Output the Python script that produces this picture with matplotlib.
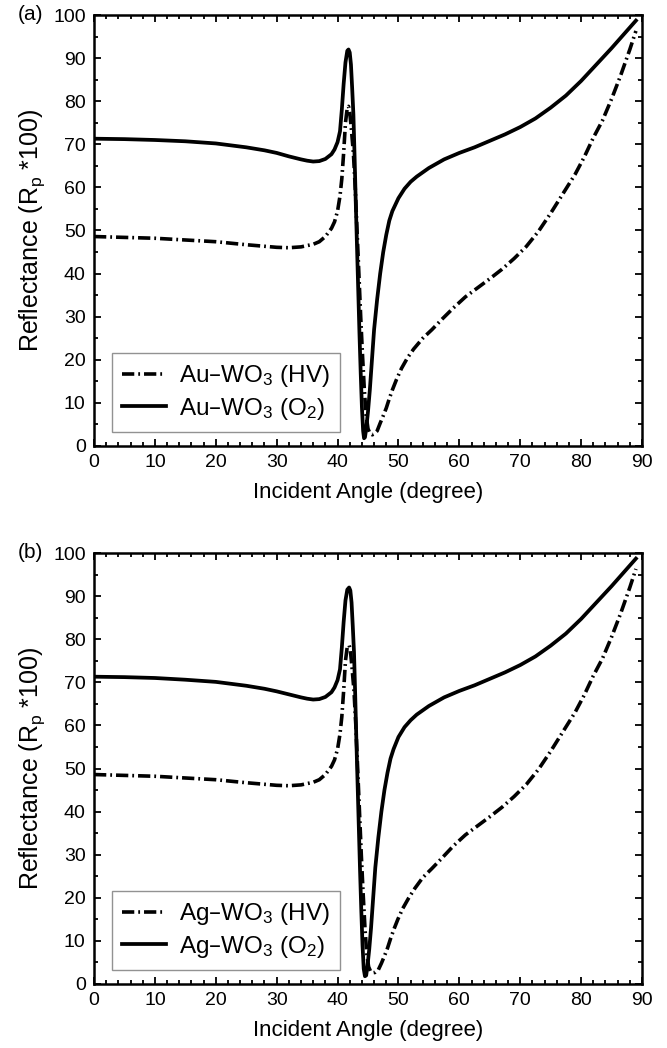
import matplotlib
matplotlib.use("Agg")
import matplotlib.pyplot as plt
from matplotlib.ticker import MultipleLocator

plt.rcParams['font.family'] = ['Liberation Sans', 'DejaVu Sans']
plt.rcParams['mathtext.default'] = 'regular'

# ---------------- data ----------------
# Panel (a): Au-WO3, O2 (solid)
a_o2_x = [0, 5, 10, 15, 20, 25, 28, 30, 32, 34, 35, 36, 37, 38, 39, 39.5, 40, 40.4, 40.7,
          41.0, 41.3, 41.6, 41.8, 42.0, 42.2, 42.4, 42.6, 42.8, 43.0, 43.2, 43.4, 43.6,
          43.8, 44.0, 44.2, 44.35, 44.5, 44.7, 45.0, 45.3, 45.6, 46.0, 46.5, 47.0, 47.5,
          48.0, 48.5, 49, 50, 51, 52, 53, 55, 57.5, 60, 62.5, 65, 67.5, 70, 72.5, 75,
          77.5, 80, 82.5, 85, 87, 89]
a_o2_y = [71.3, 71.2, 71.0, 70.7, 70.2, 69.3, 68.6, 68.0, 67.2, 66.5, 66.2, 66.0, 66.1,
          66.6, 67.7, 68.8, 70.5, 73, 78, 84, 89, 91.7, 92.0, 91.3, 88.5, 83, 77, 67, 56,
          46, 36, 26, 17, 9, 3.5, 1.8, 2.0, 4, 8, 13, 19, 27, 34, 40, 45, 49, 52.3, 54.5,
          57.5, 59.7, 61.3, 62.5, 64.5, 66.5, 68, 69.3, 70.8, 72.3, 74, 76, 78.5, 81.3,
          84.7, 88.5, 92.3, 95.5, 98.7]
# Panel (a): Au-WO3, HV (dash-dot)
a_hv_x = [0, 5, 10, 15, 20, 25, 30, 32, 34, 36, 37, 38, 39, 39.5, 40, 40.4, 40.7, 41.0,
          41.3, 41.6, 41.8, 42.0, 42.3, 42.6, 42.9, 43.2, 43.5, 43.8, 44.1, 44.4, 44.7,
          45.0, 45.3, 45.7, 46.0, 46.5, 47, 47.5, 48, 48.5, 49, 49.7, 50.5, 51.5, 52.5,
          54, 55.5, 57, 59, 61, 63, 65, 67, 69, 71, 73, 75, 77, 79, 80.5, 82, 83.5, 85,
          86.5, 88, 89]
a_hv_y = [48.6, 48.4, 48.2, 47.8, 47.4, 46.7, 46.1, 46.0, 46.2, 46.8, 47.4, 48.6, 50.5,
          52, 54.5, 58, 62, 68, 75, 78.5, 78.8, 77.5, 73, 68, 60, 50, 40, 30, 21, 13, 7,
          4, 3.0, 2.6, 2.8, 3.5, 5.3, 7, 8.8, 11, 13, 15.5, 18, 20.5, 22.5, 25, 27, 29.2,
          32, 34.6, 36.7, 38.8, 41, 43.5, 46.3, 49.8, 54, 58.5, 63, 67, 71.5, 75.5, 80.5,
          86, 92, 96.3]

# Panel (b): Ag-WO3, O2 (solid)
b_o2_x = [0, 5, 10, 15, 20, 25, 28, 30, 32, 34, 35, 36, 37, 38, 39, 39.5, 40, 40.4, 40.7,
          41.0, 41.3, 41.6, 41.9, 42.1, 42.3, 42.5, 42.7, 42.9, 43.1, 43.3, 43.5, 43.7,
          43.9, 44.1, 44.3, 44.5, 44.7, 44.9, 45.2, 45.5, 45.8, 46.2, 46.7, 47.2, 47.7,
          48.2, 48.7, 49.2, 50, 51, 52, 53, 55, 57.5, 60, 62.5, 65, 67.5, 70, 72.5, 75,
          77.5, 80, 82.5, 85, 87, 89]
b_o2_y = [71.3, 71.2, 71.0, 70.6, 70.1, 69.2, 68.5, 67.9, 67.2, 66.5, 66.2, 66.0, 66.1,
          66.6, 67.7, 68.8, 70.5, 73, 78, 84, 89, 91.5, 92.0, 91.3, 88.5, 83, 77, 67, 56,
          46, 36, 26, 17, 9, 3.5, 1.8, 2.0, 4, 8, 13, 19, 27, 34, 40, 45, 49, 52.3, 54.5,
          57.3, 59.6, 61.2, 62.5, 64.5, 66.5, 68, 69.3, 70.8, 72.3, 74, 76, 78.5, 81.3,
          84.7, 88.5, 92.3, 95.5, 98.7]
# Panel (b): Ag-WO3, HV (dash-dot)
b_hv_x = [0, 5, 10, 15, 20, 25, 30, 32, 34, 36, 37, 38, 39, 39.5, 40, 40.4, 40.7, 41.0,
          41.3, 41.6, 41.9, 42.1, 42.4, 42.7, 43.0, 43.3, 43.6, 43.9, 44.2, 44.5, 44.8,
          45.1, 45.4, 45.8, 46.2, 46.7, 47.2, 47.7, 48.2, 48.7, 49.2, 49.9, 50.7, 51.7,
          52.7, 54, 55.5, 57, 59, 61, 63, 65, 67, 69, 71, 73, 75, 77, 79, 80.5, 82, 83.5,
          85, 86.5, 88, 89]
b_hv_y = [48.6, 48.4, 48.2, 47.8, 47.4, 46.7, 46.1, 46.0, 46.2, 46.8, 47.4, 48.6, 50.5,
          52, 54.5, 58, 62, 68, 75, 78.3, 78.6, 77.5, 73, 68, 60, 50, 40, 30, 21, 13, 7,
          4, 3.0, 2.6, 2.7, 3.3, 4.8, 6.5, 8.3, 10.5, 12.5, 15, 17.5, 20, 22.2, 24.7, 26.8,
          29, 32, 34.6, 36.7, 38.8, 41, 43.5, 46.3, 49.8, 54, 58.5, 63, 67, 71.5, 75.5,
          80.5, 86, 92, 96.3]

panel_labels = ["(a)", "(b)"]
legend_hv = ["Au\u2013WO$_3$ (HV)", "Ag\u2013WO$_3$ (HV)"]
legend_o2 = ["Au\u2013WO$_3$ (O$_2$)", "Ag\u2013WO$_3$ (O$_2$)"]
xlabel = "Incident Angle (degree)"
ylabel = "Reflectance (R$_p$ *100)"

# ---------------- figure ----------------
W, H = 667, 1048
fig = plt.figure(figsize=(W / 100, H / 100), dpi=100)

def frac_rect(left, top, right, bottom):
    return [left / W, 1 - bottom / H, (right - left) / W, (bottom - top) / H]

tops = [15, 553]
rects = [frac_rect(94, 15, 642, 446), frac_rect(94, 553, 642, 984)]
series = [(a_hv_x, a_hv_y, a_o2_x, a_o2_y), (b_hv_x, b_hv_y, b_o2_x, b_o2_y)]

for i, rect in enumerate(rects):
    ax = fig.add_axes(rect)
    hx, hy, ox, oy = series[i]
    ax.plot(hx, hy, color='black', lw=2.6, linestyle=(0, (3.4, 1.1, 0.5, 1.1)),
            label=legend_hv[i], dash_capstyle='butt')
    ax.plot(ox, oy, color='black', lw=2.7, linestyle='-', label=legend_o2[i])
    ax.set_xlim(0, 90)
    ax.set_ylim(0, 100)
    ax.xaxis.set_major_locator(MultipleLocator(10))
    ax.xaxis.set_minor_locator(MultipleLocator(2))
    ax.yaxis.set_major_locator(MultipleLocator(10))
    ax.yaxis.set_minor_locator(MultipleLocator(5))
    ax.tick_params(which='both', direction='in', top=True, right=True, width=1.3)
    ax.tick_params(which='major', length=5, labelsize=14)
    ax.tick_params(axis='x', which='major', pad=6)
    ax.tick_params(axis='y', which='major', pad=6)
    ax.tick_params(which='minor', length=3)
    for s in ax.spines.values():
        s.set_linewidth(1.8)
    ax.set_xlabel(xlabel, fontsize=16, labelpad=8)
    ax.set_ylabel(ylabel, fontsize=18, labelpad=4)
    leg = ax.legend(loc='lower left', bbox_to_anchor=(0.033, 0.032), borderaxespad=0,
                    fancybox=False, frameon=True, fontsize=17.5, handlelength=1.8,
                    handletextpad=0.55, borderpad=0.42, labelspacing=0.28)
    leg.get_frame().set_edgecolor('#777777')
    leg.get_frame().set_linewidth(1.0)
    fig.text(18 / W, 1 - tops[i] / H, panel_labels[i],
             fontsize=15, ha='left', va='center')

fig.savefig("out.png", dpi=100)
